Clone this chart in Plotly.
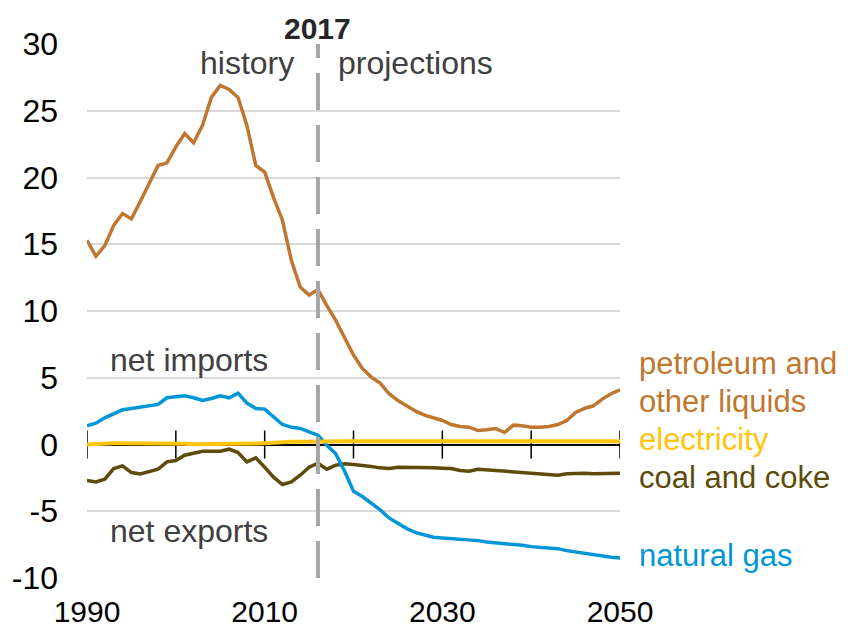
import plotly.graph_objects as go

# years 1990-2050
years = list(range(1990, 2051))

# net imports (+) / net exports (-), quadrillion Btu
petroleum = [
    15.3, 14.1, 14.9, 16.4, 17.3, 16.9, 18.2, 19.6, 20.9, 21.1,
    22.3, 23.3, 22.6, 23.9, 26.0, 26.9, 26.6, 26.0, 23.9, 20.9,
    20.4, 18.5, 16.8, 13.8, 11.8, 11.2, 11.6, 10.4, 9.3, 8.0,
    6.7, 5.7, 5.05, 4.6, 3.8, 3.3, 2.9, 2.5, 2.2, 2.0,
    1.8, 1.5, 1.35, 1.3, 1.05, 1.1, 1.2, 0.9, 1.45, 1.4,
    1.3, 1.3, 1.35, 1.5, 1.8, 2.4, 2.7, 2.9, 3.4, 3.8,
    4.1,
]
natural_gas = [
    1.4, 1.6, 2.0, 2.3, 2.6, 2.7, 2.8, 2.9, 3.0, 3.5,
    3.6, 3.65, 3.5, 3.3, 3.45, 3.65, 3.5, 3.85, 3.1, 2.7,
    2.65, 2.05, 1.5, 1.3, 1.2, 0.95, 0.7, -0.05, -0.7, -2.0,
    -3.5, -3.9, -4.4, -4.9, -5.5, -5.9, -6.3, -6.6, -6.8, -6.95,
    -7.0, -7.05, -7.1, -7.1, -7.2, -7.3, -7.35, -7.45, -7.5, -7.55,
    -7.65, -7.7, -7.75, -7.8, -7.95, -8.05, -8.2, -8.3, -8.35, -8.45,
    -8.5,
]
coal = [
    -2.7, -2.8, -2.6, -1.8, -1.6, -2.1, -2.2, -2.05, -1.85, -1.3,
    -1.2, -0.8, -0.65, -0.5, -0.5, -0.5, -0.35, -0.6, -1.3, -1.0,
    -1.7, -2.45, -3.0, -2.8, -2.3, -1.7, -1.4, -1.85, -1.55, -1.45,
    -1.5, -1.55, -1.65, -1.75, -1.8, -1.7, -1.7, -1.7, -1.72, -1.75,
    -1.78, -1.8, -1.95, -2.0, -1.85, -1.9, -1.95, -2.05, -2.1, -2.15,
    -2.2, -2.22, -2.25, -2.3, -2.2, -2.15, -2.15, -2.2, -2.2, -2.2,
    -2.15,
]
electricity = [
    0.0, 0.05, 0.05, 0.1, 0.1, 0.1, 0.1, 0.1, 0.08, 0.08,
    0.05, 0.05, 0.02, 0.02, 0.05, 0.05, 0.05, 0.08, 0.08, 0.08,
    0.1, 0.15, 0.2, 0.2, 0.2, 0.22, 0.25, 0.25, 0.25, 0.25,
    0.25, 0.25, 0.25, 0.25, 0.25, 0.25, 0.25, 0.25, 0.25, 0.25,
    0.25, 0.25, 0.25, 0.25, 0.25, 0.25, 0.25, 0.25, 0.25, 0.25,
    0.25, 0.25, 0.25, 0.25, 0.25, 0.25, 0.25, 0.25, 0.25, 0.25,
    0.25,
]

zero_ticks = [1990, 2000, 2010, 2020, 2030, 2040, 2050]
x_labels = [1990, 2010, 2030, 2050]
y_ticks = [-10, -5, 0, 5, 10, 15, 20, 25, 30]
y_ticktext = ["-10", "-5", "0", "5", "10", "15", "20", "25", "30"]
divider_year = 2016

FONT = "Liberation Sans, Arial, sans-serif"
FS = 32
C_PET = "#BF772F"
C_GAS = "#0096D7"
C_COAL = "#5E4B0C"
C_ELEC = "#FFC40C"
TXT = "#404040"

fig = go.Figure()

# tick marks crossing the zero line
fig.add_trace(go.Scatter(
    x=zero_ticks, y=[0] * len(zero_ticks), mode="markers",
    marker=dict(symbol="line-ns", size=20, line=dict(color="black", width=1.5)),
    hoverinfo="skip", showlegend=False,
))

for vals, color, width in [
    (coal, C_COAL, 3.5),
    (natural_gas, C_GAS, 3.5),
    (petroleum, C_PET, 3.5),
    (electricity, C_ELEC, 4),
]:
    fig.add_trace(go.Scatter(
        x=years, y=vals, mode="lines",
        line=dict(color=color, width=width),
        showlegend=False,
    ))

fig.add_shape(
    type="line", xref="x", yref="y",
    x0=divider_year, x1=divider_year, y0=-10, y1=30,
    line=dict(color="#A6A6A6", width=4, dash="37px,15px"),
)

notes = [
    dict(x=divider_year, y=30, text="<b>2017</b>", xanchor="center", yanchor="bottom",
         yshift=-3, font=dict(size=30, color="#262626", family=FONT)),
    dict(x=divider_year, y=28.6, text="history", xanchor="right", xshift=-22),
    dict(x=divider_year, y=28.6, text="projections", xanchor="left", xshift=18),
    dict(x=1992.4, y=6.3, text="net imports", xanchor="left"),
    dict(x=1992.4, y=-6.5, text="net exports", xanchor="left"),
]
for n in notes:
    n.setdefault("font", dict(size=FS, color=TXT, family=FONT))
    fig.add_annotation(xref="x", yref="y", showarrow=False, **n)

side_labels = [
    ("petroleum and", 6.1, C_PET),
    ("other liquids", 3.2, C_PET),
    ("electricity", 0.35, C_ELEC),
    ("coal and coke", -2.5, C_COAL),
    ("natural gas", -8.3, C_GAS),
]
for text, yv, color in side_labels:
    fig.add_annotation(
        x=2050, y=yv, xref="x", yref="y", text=text, showarrow=False,
        xanchor="left", xshift=17, font=dict(size=31, color=color, family=FONT),
    )

# page body adds an 8px margin, so the figure is shrunk and shifted by that
fig.update_layout(
    width=840, height=621,
    margin=dict(l=79, r=228, t=36, b=51),
    paper_bgcolor="white", plot_bgcolor="white",
    font=dict(family=FONT, size=FS, color="black"),
    showlegend=False,
)
fig.update_xaxes(
    range=[1990, 2050], tickvals=x_labels, showgrid=False, zeroline=False,
    showline=False, ticks="", ticklabelstandoff=13, automargin=False,
    tickfont=dict(size=30, color="black"),
)
fig.update_yaxes(
    range=[-10, 30], tickvals=y_ticks, ticktext=y_ticktext,
    showgrid=True, gridcolor="#D9D9D9",
    gridwidth=1.5, zeroline=True, zerolinecolor="black", zerolinewidth=1.5,
    showline=False, ticks="", ticklabelstandoff=28, automargin=False,
    tickfont=dict(size=FS, color="black"),
)

fig.write_html("out.html")
